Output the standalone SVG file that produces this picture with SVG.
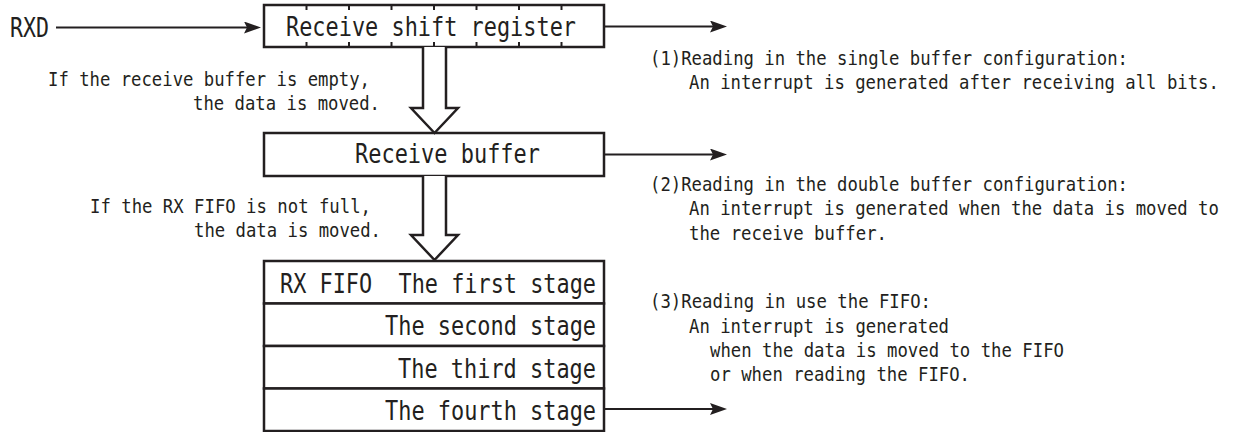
<svg xmlns="http://www.w3.org/2000/svg" width="1235" height="432" viewBox="0 0 1235 432">
<style>
  .box { fill: #fff; stroke: #231f20; stroke-width: 2.5; }
  .tick { stroke: #231f20; stroke-width: 2; }
  .big { font-family: "DejaVu Sans Mono", "Liberation Mono", monospace; font-size: 26px; fill: #231f20; }
  .small { font-family: "DejaVu Sans Mono", "Liberation Mono", monospace; font-size: 19px; fill: #231f20; }
  .line { stroke: #231f20; stroke-width: 2; fill: none; }
  .hollow { fill: #fff; stroke: #231f20; stroke-width: 2.5; stroke-linejoin: miter; }
</style>
<defs>
  <marker id="arrow" markerUnits="userSpaceOnUse" markerWidth="18" markerHeight="13" refX="10" refY="6" orient="auto">
    <path d="M0,0 L17,6 L0,12 L3,6 Z" fill="#231f20"/>
  </marker>
</defs>
<rect width="1235" height="432" fill="#fff"/>

<g id="rxd">
  <text class="big" x="10" y="37" textLength="39" lengthAdjust="spacingAndGlyphs">RXD</text>
</g>

<g id="shift-register">
  <rect class="box" x="264" y="5" width="340" height="42"/>
  <g class="tick">
    <line x1="306.5" y1="5" x2="306.5" y2="10"/><line x1="306.5" y1="42" x2="306.5" y2="47"/>
    <line x1="349" y1="5" x2="349" y2="10"/><line x1="349" y1="42" x2="349" y2="47"/>
    <line x1="391.5" y1="5" x2="391.5" y2="10"/><line x1="391.5" y1="42" x2="391.5" y2="47"/>
    <line x1="434" y1="5" x2="434" y2="10"/><line x1="434" y1="42" x2="434" y2="47"/>
    <line x1="476.5" y1="5" x2="476.5" y2="10"/><line x1="476.5" y1="42" x2="476.5" y2="47"/>
    <line x1="519" y1="5" x2="519" y2="10"/><line x1="519" y1="42" x2="519" y2="47"/>
    <line x1="561.5" y1="5" x2="561.5" y2="10"/><line x1="561.5" y1="42" x2="561.5" y2="47"/>
  </g>
  <text class="big" x="286" y="36" textLength="290" lengthAdjust="spacingAndGlyphs">Receive shift register</text>
</g>

<g id="receive-buffer">
  <rect class="box" x="264" y="133" width="340" height="43"/>
  <text class="big" x="355" y="163" textLength="185" lengthAdjust="spacingAndGlyphs">Receive buffer</text>
</g>

<g id="rx-fifo">
  <g id="fifo-stage-1">
    <rect class="box" x="264" y="261" width="340" height="42.5"/>
    <text class="big" x="596" y="293" text-anchor="end" textLength="316" lengthAdjust="spacingAndGlyphs" xml:space="preserve">RX FIFO  The first stage</text>
  </g>
  <g id="fifo-stage-2">
    <rect class="box" x="264" y="303.5" width="340" height="42.5"/>
    <text class="big" x="596" y="335" text-anchor="end" textLength="211" lengthAdjust="spacingAndGlyphs">The second stage</text>
  </g>
  <g id="fifo-stage-3">
    <rect class="box" x="264" y="346" width="340" height="42.5"/>
    <text class="big" x="596" y="378" text-anchor="end" textLength="198" lengthAdjust="spacingAndGlyphs">The third stage</text>
  </g>
  <g id="fifo-stage-4">
    <rect class="box" x="264" y="388.5" width="340" height="42.5"/>
    <text class="big" x="596" y="420" text-anchor="end" textLength="211" lengthAdjust="spacingAndGlyphs">The fourth stage</text>
  </g>
</g>

<g id="connectors">
  <line class="line" x1="56" y1="27.5" x2="254" y2="27.5" marker-end="url(#arrow)"/>
  <line class="line" x1="605" y1="26.5" x2="720" y2="26.5" marker-end="url(#arrow)"/>
  <line class="line" x1="605" y1="154.5" x2="720" y2="154.5" marker-end="url(#arrow)"/>
  <line class="line" x1="605" y1="409" x2="720" y2="409" marker-end="url(#arrow)"/>
  <path class="hollow" d="M423,47 V108 H411 L434.5,133 L458,108 H446 V47"/>
  <path class="hollow" d="M423,176 V235 H411 L434.5,260 L458,235 H446 V176"/>
</g>

<g id="move-labels">
  <text class="small" x="48" y="86" textLength="322" lengthAdjust="spacingAndGlyphs">If the receive buffer is empty,</text>
  <text class="small" x="193" y="110" textLength="187" lengthAdjust="spacingAndGlyphs">the data is moved.</text>
  <text class="small" x="90" y="213" textLength="281" lengthAdjust="spacingAndGlyphs">If the RX FIFO is not full,</text>
  <text class="small" x="194" y="237" textLength="187" lengthAdjust="spacingAndGlyphs">the data is moved.</text>
</g>

<g id="notes">
  <text class="small" x="650" y="65" textLength="478" lengthAdjust="spacingAndGlyphs">(1)Reading in the single buffer configuration:</text>
  <text class="small" transform="translate(689,89) scale(0.909,1)" x="0" y="0">An interrupt is generated after receiving all bits.</text>
  <text class="small" x="650" y="191" textLength="478" lengthAdjust="spacingAndGlyphs">(2)Reading in the double buffer configuration:</text>
  <text class="small" transform="translate(689,215) scale(0.909,1)" x="0" y="0">An interrupt is generated when the data is moved to</text>
  <text class="small" x="689" y="240" textLength="198" lengthAdjust="spacingAndGlyphs">the receive buffer.</text>
  <text class="small" x="650" y="308" textLength="281" lengthAdjust="spacingAndGlyphs">(3)Reading in use the FIFO:</text>
  <text class="small" x="689" y="333" textLength="260" lengthAdjust="spacingAndGlyphs">An interrupt is generated</text>
  <text class="small" x="710" y="357" textLength="354" lengthAdjust="spacingAndGlyphs">when the data is moved to the FIFO</text>
  <text class="small" x="710" y="381" textLength="260" lengthAdjust="spacingAndGlyphs">or when reading the FIFO.</text>
</g>
</svg>
